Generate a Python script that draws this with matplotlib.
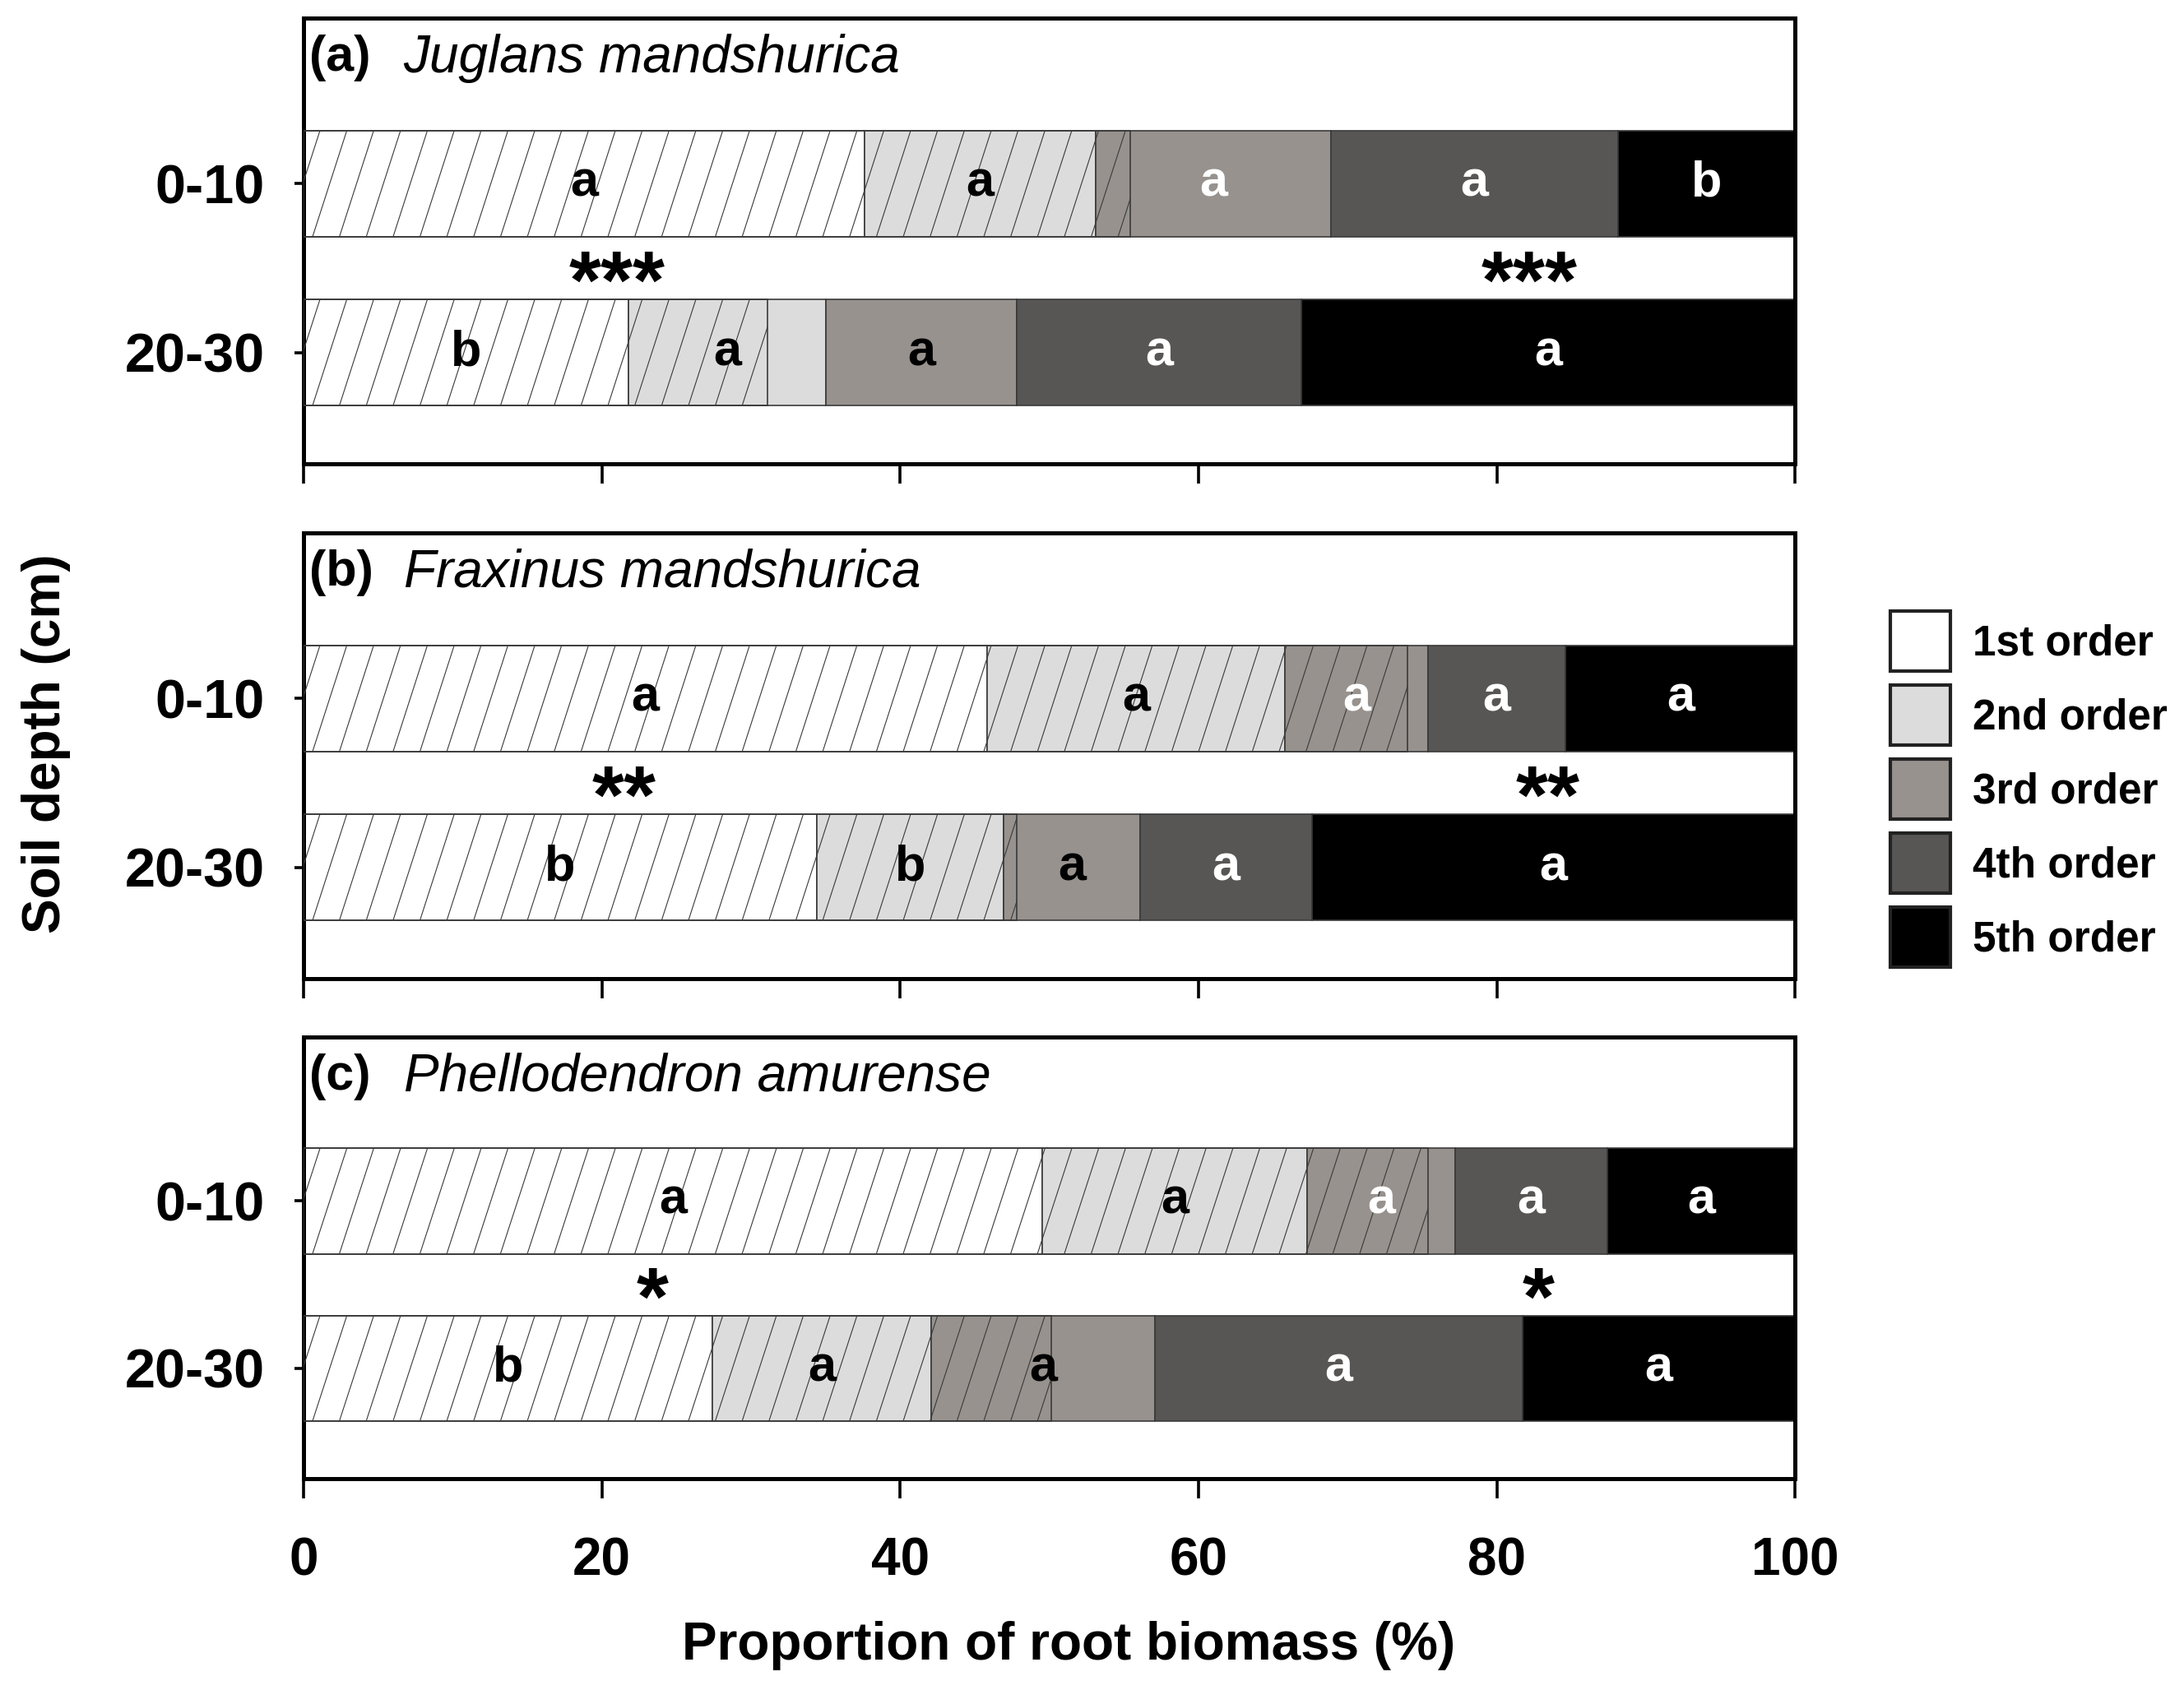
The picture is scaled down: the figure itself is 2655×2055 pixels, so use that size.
import numpy as np
import matplotlib
matplotlib.use('Agg')
import matplotlib.pyplot as plt
from matplotlib.patches import Patch
from matplotlib.collections import LineCollection

plt.rcParams['font.family'] = ['Liberation Sans', 'DejaVu Sans']

# Data
orders = ['1st order', '2nd order', '3rd order', '4th order', '5th order']
depths = ['0-10', '20-30']
tags = ['(a)', '(b)', '(c)']
species = ['Juglans mandshurica', 'Fraxinus mandshurica', 'Phellodendron amurense']

# proportion of root biomass (%) per order, rows: 0-10 then 20-30
juglans = [[37.6, 15.5, 15.8, 19.2, 11.9],
           [21.8, 13.2, 12.8, 19.1, 33.1]]
fraxinus = [[45.8, 20.0, 9.6, 9.2, 15.4],
            [34.4, 12.5, 9.2, 11.5, 32.4]]
phello = [[49.5, 17.8, 9.9, 10.2, 12.6],
          [27.4, 14.7, 15.0, 24.6, 18.3]]

# cumulative share of absorptive (hatched) roots
juglans_hatch = [55.4, 31.1]
fraxinus_hatch = [74.0, 47.8]
phello_hatch = [75.4, 50.1]

# significance letters
juglans_letters = [['a', 'a', 'a', 'a', 'b'], ['b', 'a', 'a', 'a', 'a']]
fraxinus_letters = [['a', 'a', 'a', 'a', 'a'], ['b', 'b', 'a', 'a', 'a']]
phello_letters = [['a', 'a', 'a', 'a', 'a'], ['b', 'a', 'a', 'a', 'a']]

# depth-effect asterisks (1st order, 5th order)
stars = ['***', '**', '*']
star_x = [[21.0, 82.2], [21.5, 83.4], [23.4, 82.8]]

colors = ['#ffffff', '#dcdcdc', '#97928e', '#585654', '#000000']
# letter colours: 3rd order white at 0-10, black at 20-30
letter_colors = [['k', 'k', 'w', 'w', 'w'], ['k', 'k', 'k', 'w', 'w']]

data = [juglans, fraxinus, phello]
hatches = [juglans_hatch, fraxinus_hatch, phello_hatch]
letters = [juglans_letters, fraxinus_letters, phello_letters]

fig = plt.figure(figsize=(13.275, 10.275), dpi=200)

bottoms = [0.7255, 0.4209, 0.125]
heights = [0.2637, 0.2637, 0.2613]
ypos = [1, 0]
bh = 0.63

for p in range(3):
    ax = fig.add_axes([0.139, bottoms[p], 0.683, heights[p]])
    for r in range(2):
        vals = np.array(data[p][r])
        lefts = np.concatenate([[0], np.cumsum(vals)[:-1]])
        ax.barh(ypos[r], vals, left=lefts, height=bh, color=colors,
                edgecolor='#3a3a3a', linewidth=0.6, zorder=2)
        # hatched overlay for absorptive roots
        hb = ax.barh(ypos[r], hatches[p][r], left=0, height=bh, fill=False,
                     edgecolor='#3a3a3a', linewidth=0.6, zorder=3)
        rect = hb.patches[0]
        xs = np.arange(-3, hatches[p][r] + 3, 1.8)
        segs = [[(x, ypos[r] - bh / 2), (x + 2.3, ypos[r] + bh / 2)] for x in xs]
        lc = LineCollection(segs, colors='#3a3a3a', linewidths=0.4, zorder=3)
        ax.add_collection(lc)
        lc.set_clip_path(rect)
        # letters
        for k in range(5):
            ax.text(lefts[k] + vals[k] / 2, ypos[r], letters[p][r][k],
                    ha='center', va='center', fontsize=22, fontweight='bold',
                    color=letter_colors[r][k], zorder=4)
    for sx in star_x[p]:
        ax.text(sx, 0.39, stars[p], ha='center', va='center',
                fontsize=36, fontweight='bold', zorder=4)
    ax.text(0.004, 0.91, tags[p], transform=ax.transAxes, ha='left', va='center',
            fontsize=22, fontweight='bold')
    ax.text(0.067, 0.91, species[p], transform=ax.transAxes, ha='left', va='center',
            fontsize=23, fontstyle='italic')

    ax.set_xlim(0, 100)
    ax.set_ylim(-0.66, 1.98)
    ax.set_yticks(ypos)
    ax.set_yticklabels(depths, fontsize=24, fontweight='bold')
    ax.set_xticks([0, 20, 40, 60, 80, 100])
    ax.tick_params(axis='x', direction='out', length=8.5, width=1.3, pad=17)
    ax.tick_params(axis='y', direction='out', length=4, width=1.3, pad=13)
    for s in ax.spines.values():
        s.set_linewidth(1.8)
    if p < 2:
        ax.set_xticklabels([])
    else:
        ax.set_xticklabels(['0', '20', '40', '60', '80', '100'],
                           fontsize=23, fontweight='bold')
        ax.set_xlabel('Proportion of root biomass (%)', fontsize=23,
                      fontweight='bold', labelpad=15, x=0.513)

fig.text(0.021, 0.56, 'Soil depth (cm)', rotation=90, ha='center', va='center',
         fontsize=23, fontweight='bold')

handles = [Patch(facecolor=c, edgecolor='#222222', linewidth=1.5) for c in colors]
fig.legend(handles, orders, loc='center left', bbox_to_anchor=(0.8655, 0.533),
           frameon=False, prop={'size': 18.5, 'weight': 'bold'},
           handlelength=1.42, handleheight=1.81, labelspacing=0.33,
           handletextpad=0.52, borderaxespad=0, borderpad=0)

fig.savefig('out.png', dpi=200)
